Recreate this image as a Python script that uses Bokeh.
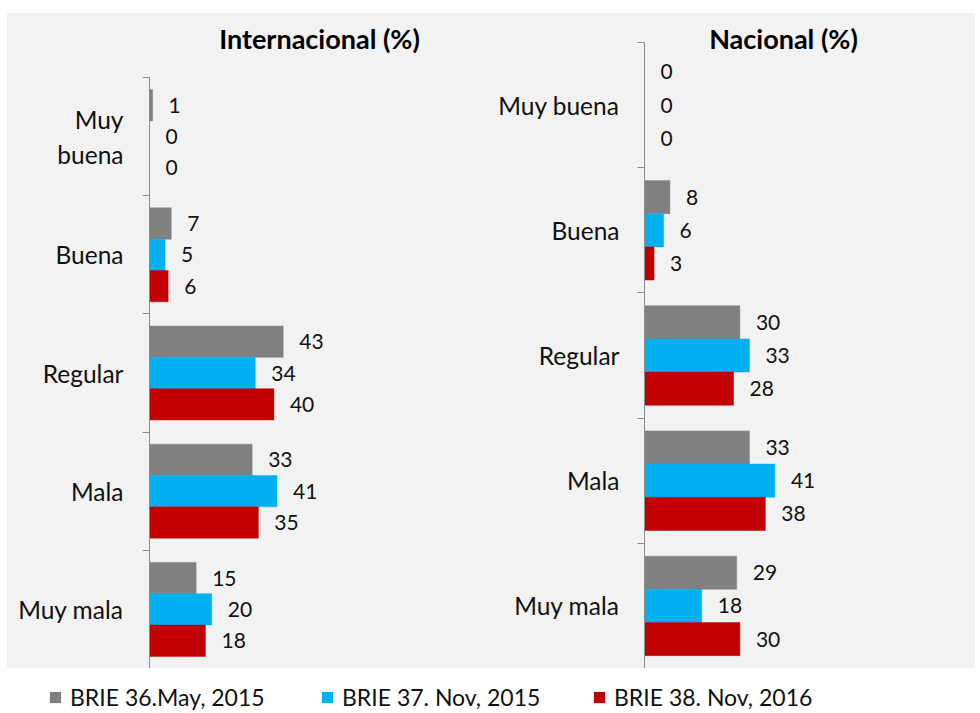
from bokeh.plotting import figure
from bokeh.models import ColumnDataSource, Range1d, FixedTicker, Label, Legend, LegendItem, Spacer
from bokeh.layouts import column, row
from bokeh.transform import dodge
from bokeh.core.properties import value
from bokeh.embed import file_html
from bokeh.resources import INLINE

# ---- data ----
categories = ["Muy buena", "Buena", "Regular", "Mala", "Muy mala"]
int_labels = ["Muy\nbuena", "Buena", "Regular", "Mala", "Muy mala"]
nac_labels = ["Muy buena", "Buena", "Regular", "Mala", "Muy mala"]
series_names = ["BRIE 36.May, 2015", "BRIE 37. Nov, 2015", "BRIE 38. Nov, 2016"]
series_colors = ["#808080", "#00B0F0", "#C00000"]

int_may_2015 = [1, 7, 43, 33, 15]
int_nov_2015 = [0, 5, 34, 41, 20]
int_nov_2016 = [0, 6, 40, 35, 18]

nac_may_2015 = [0, 8, 30, 33, 29]
nac_nov_2015 = [0, 6, 33, 41, 18]
nac_nov_2016 = [0, 3, 28, 38, 30]

BG = "#F2F2F2"
FONT = "Lato"
BAR_H = 0.265
AXIS_COLOR = "#8C8C8C"
PANEL_H = 655
TITLE_FROM_TOP = 25


def make_panel(title, labels, series, width, min_left, min_right, top_pad,
               title_x, label_standoff):
    n = len(labels)
    # extra room above the first category, where the title sits
    extra = n * top_pad / (PANEL_H - top_pad)
    p = figure(width=width, height=PANEL_H,
               x_range=Range1d(0, 100), y_range=Range1d(n, -extra),
               x_axis_location=None, toolbar_location=None,
               output_backend="svg",
               min_border_left=min_left, min_border_right=min_right,
               min_border_top=0, min_border_bottom=0,
               background_fill_color=BG, border_fill_color=BG,
               outline_line_color=None)
    p.frame_align = False
    p.grid.visible = False
    pos = [i + 0.5 for i in range(n)]
    offsets = [-BAR_H, 0.0, BAR_H]
    for vals, color, off in zip(series, series_colors, offsets):
        src = ColumnDataSource(dict(pos=pos, val=vals, txt=[str(v) for v in vals]))
        p.hbar(y=dodge("pos", off), left=0, right="val", height=BAR_H,
               source=src, fill_color=color, line_color=color,
               line_alpha=0.45, line_width=1)
        p.text(x="val", y=dodge("pos", off), text="txt", source=src,
               x_offset=16, text_baseline="middle", text_align="left",
               text_font=value(FONT), text_font_size="21px", text_color="#111111")
    ax = p.yaxis[0]
    ax.bounds = (0, n)
    ax.ticker = FixedTicker(ticks=pos, minor_ticks=list(range(n + 1)))
    ax.major_label_overrides = {pv: lab for pv, lab in zip(pos, labels)}
    ax.major_tick_line_color = None
    ax.major_tick_out = 0
    ax.major_tick_in = 0
    ax.minor_tick_out = 7
    ax.minor_tick_in = 0
    ax.minor_tick_line_color = AXIS_COLOR
    ax.axis_line_color = AXIS_COLOR
    ax.major_label_standoff = label_standoff
    ax.major_label_text_font = FONT
    ax.major_label_text_font_size = "24.5px"
    ax.major_label_text_color = "#111111"
    t = Label(text=title, x=title_x, y=PANEL_H - TITLE_FROM_TOP,
              x_units="screen", y_units="screen",
              text_align="center", text_baseline="middle",
              text_font=FONT, text_font_size="27px", text_font_style="bold",
              text_color="#000000")
    p.add_layout(t)
    return p


p1 = make_panel("Internacional (%)", int_labels,
                [int_may_2015, int_nov_2015, int_nov_2016],
                width=483, min_left=142, min_right=30, top_pad=64,
                title_x=170, label_standoff=19)
p2 = make_panel("Nacional (%)", nac_labels,
                [nac_may_2015, nac_nov_2015, nac_nov_2016],
                width=485, min_left=154, min_right=13, top_pad=29,
                title_x=139, label_standoff=18)

# ---- legend strip ----
pl = figure(width=975, height=44, x_range=Range1d(0, 1), y_range=Range1d(0, 1),
            toolbar_location=None, output_backend="svg",
            x_axis_location=None, y_axis_location=None,
            min_border=0, outline_line_color=None,
            background_fill_color="white", border_fill_color="white")
pl.grid.visible = False
items = []
for name, color in zip(series_names, series_colors):
    # legend swatch renderer, kept outside the visible range
    r = pl.hbar(y=[-5], left=[-5], right=[-4], height=0.5,
                fill_color=color, line_color=None)
    items.append(LegendItem(label=name, renderers=[r]))
legend = Legend(items=items, orientation="horizontal", location=(48, 1),
                glyph_width=14, glyph_height=14, label_standoff=8,
                label_width=230, spacing=20, padding=0, margin=0,
                border_line_color=None, background_fill_alpha=0,
                label_text_font=FONT, label_text_font_size="23px",
                label_text_color="#111111")
pl.add_layout(legend)

panels = row(p1, p2, styles={"background-color": BG})
layout = column(Spacer(width=975, height=13),
                row(Spacer(width=7, height=PANEL_H), panels),
                pl)

open("out.html", "w").write(file_html(layout, INLINE))
